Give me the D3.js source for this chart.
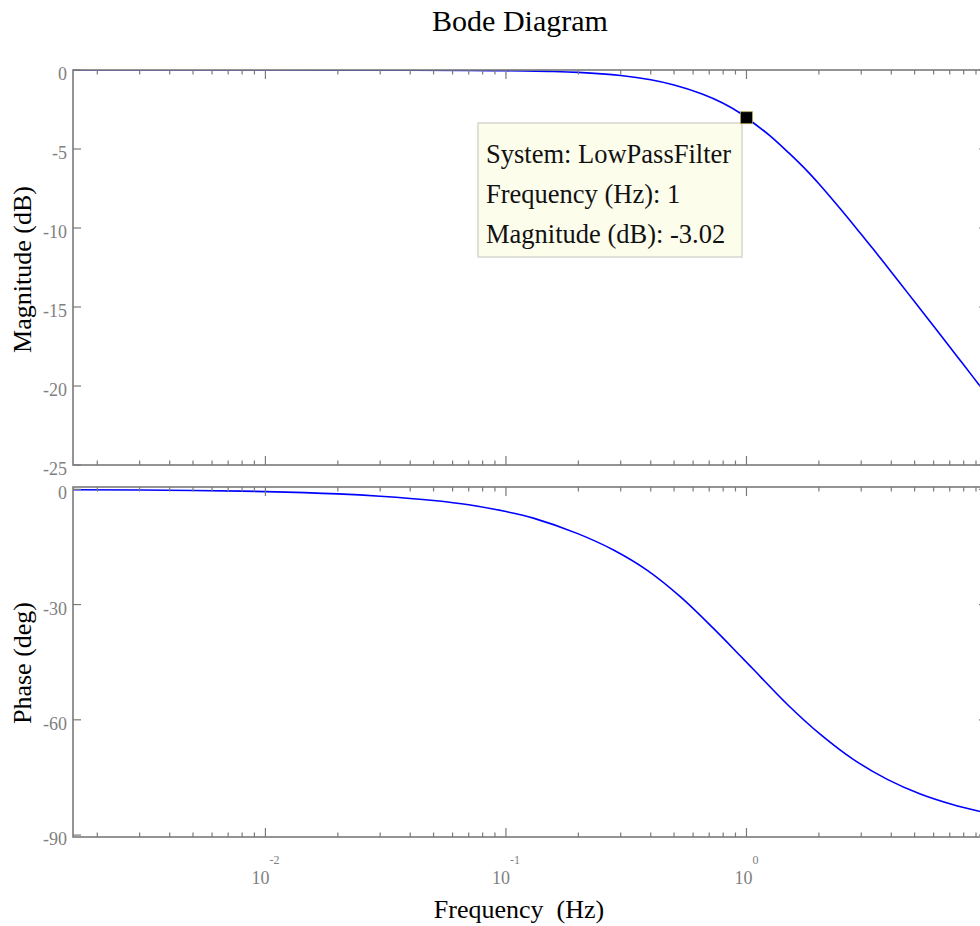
<!DOCTYPE html>
<html>
<head>
<meta charset="utf-8">
<script src="https://cdn.jsdelivr.net/npm/d3@7"></script>
<style>
  html, body { margin: 0; padding: 0; background: #ffffff; }
  svg { display: block; }
  text { font-family: "Liberation Serif", "DejaVu Serif", serif; }
</style>
</head>
<body>
<svg id="chart" width="980" height="926"></svg>
<script>
// ---------------- data ----------------
const magFreq = [0.00158, 0.005, 0.01, 0.02, 0.04, 0.07, 0.1, 0.15, 0.2, 0.3, 0.4, 0.5, 0.65, 0.8, 0.94, 1.0, 1.25, 1.5, 1.79, 2.0, 2.46, 3.0, 3.37, 4.0, 4.67, 5.5, 6.41, 7.5, 8.79, 10];
const magDB   = [0, 0, 0, -0.005, -0.01, -0.025, -0.05, -0.09, -0.15, -0.35, -0.62, -0.95, -1.5, -2.1, -2.72, -3.02, -4.15, -5.25, -6.4, -7.2, -8.8, -10.4, -11.35, -12.78, -14.09, -15.47, -16.77, -18.11, -19.47, -20.58];

const phaseFreq = [0.00158, 0.005, 0.01, 0.02, 0.03, 0.05, 0.07, 0.1, 0.13, 0.2, 0.28, 0.387, 0.532, 0.729, 0.944, 1.0, 1.07, 1.48, 2.03, 2.78, 3.85, 5.28, 7.24, 9.4, 10];
const phaseDeg  = [-0.1, -0.3, -0.6, -1.2, -1.8, -2.9, -4.0, -5.8, -7.5, -11.6, -15.8, -21.1, -28.0, -36.2, -43.4, -45.0, -46.9, -56.0, -63.8, -70.3, -75.5, -79.3, -82.1, -83.9, -84.3];

const magTicks   = [0, -5, -10, -15, -20, -25];
const phaseTicks = [0, -30, -60, -90];
const xMajorExps = [-2, -1, 0];

const tipSystem = "LowPassFilter";
const tipFreq = 1;
const tipMag = -3.02;

const titleText = "Bode Diagram";
const magLabel = "Magnitude (dB)";
const phaseLabel = "Phase (deg)";
const xLabel = "Frequency\u00A0\u00A0(Hz)";

// ---------------- layout ----------------
const svg = d3.select("#chart");
const L = 73, R = 987;
const magTop = 70, magBot = 465;
const phTop = 487, phBot = 837;
const axisColor = "#7a7a7a";
const labelColor = "#808080";

const x = d3.scaleLog().domain([Math.pow(10, -2.8), 10]).range([L, R]);
const yMag = d3.scaleLinear().domain([-25, 0]).range([magBot, magTop]);
const yPh = d3.scaleLinear().domain([-90.5, 0.6]).range([phBot, phTop]);

// minor / major tick values on x
const xMinor = [];
for (let e = -3; e <= 0; e++) for (let m = 2; m <= 9; m++) {
  const v = m * Math.pow(10, e);
  if (v >= x.domain()[0] && v <= x.domain()[1]) xMinor.push(v);
}
const xMajor = [-2, -1, 0, 1].map(e => Math.pow(10, e));

const defs = svg.append("defs");
defs.append("clipPath").attr("id", "clipMag").append("rect")
  .attr("x", L).attr("y", magTop).attr("width", R - L).attr("height", magBot - magTop);
defs.append("clipPath").attr("id", "clipPh").append("rect")
  .attr("x", L).attr("y", phTop).attr("width", R - L).attr("height", phBot - phTop);

function panel(top, bot, yScale, yTicks, clipId, freqs, vals, showXLabels) {
  const g = svg.append("g");
  const line = d3.line()
    .x((d, i) => x(freqs[i]))
    .y((d) => yScale(d))
    .curve(d3.curveCatmullRom.alpha(0.5));
  // curve, clipped to plot area
  g.append("path").datum(vals).attr("d", line)
    .attr("clip-path", "url(#" + clipId + ")")
    .attr("fill", "none").attr("stroke", "#0000ff").attr("stroke-width", 1.6);
  // x ticks (top & bottom, inward)
  const tg = g.append("g").attr("stroke", axisColor).attr("stroke-width", 1.2);
  xMinor.forEach(v => {
    tg.append("line").attr("x1", x(v)).attr("x2", x(v)).attr("y1", top).attr("y2", top + 4.5);
    tg.append("line").attr("x1", x(v)).attr("x2", x(v)).attr("y1", bot).attr("y2", bot - 4.5);
  });
  xMajor.forEach(v => {
    tg.append("line").attr("x1", x(v)).attr("x2", x(v)).attr("y1", top).attr("y2", top + 9);
    tg.append("line").attr("x1", x(v)).attr("x2", x(v)).attr("y1", bot).attr("y2", bot - 9);
  });
  // y ticks (left & right, inward)
  yTicks.forEach(v => {
    const yy = yScale(v);
    tg.append("line").attr("x1", L).attr("x2", L + 8).attr("y1", yy).attr("y2", yy);
    tg.append("line").attr("x1", R).attr("x2", R - 8).attr("y1", yy).attr("y2", yy);
  });
  // frame
  g.append("rect").attr("x", L).attr("y", top).attr("width", R - L).attr("height", bot - top)
    .attr("fill", "none").attr("stroke", axisColor).attr("stroke-width", 1.6);
  // y tick labels
  yTicks.forEach(v => {
    g.append("text").attr("x", 67).attr("y", yScale(v) + 10)
      .attr("text-anchor", "end").attr("font-size", 18).attr("fill", labelColor)
      .text(v === 0 ? "0" : String(v));
  });
  if (showXLabels) {
    xMajorExps.forEach(e => {
      const t = g.append("text").attr("x", x(Math.pow(10, e))).attr("y", 884)
        .attr("text-anchor", "middle").attr("fill", labelColor);
      t.append("tspan").attr("font-size", 18).text("10");
      t.append("tspan").attr("font-size", 12).attr("dy", -20).text(String(e));
    });
  }
  return g;
}

panel(magTop, magBot, yMag, magTicks, "clipMag", magFreq, magDB, false);
panel(phTop, phBot, yPh, phaseTicks, "clipPh", phaseFreq, phaseDeg, true);

// title and axis labels
svg.append("text").attr("x", 520).attr("y", 31).attr("text-anchor", "middle")
  .attr("font-size", 30).attr("fill", "#000").text(titleText);
svg.append("text").attr("transform", "translate(31," + ((magTop + magBot) / 2 + 2) + ") rotate(-90)")
  .attr("text-anchor", "middle").attr("font-size", 26).attr("fill", "#000").text(magLabel);
svg.append("text").attr("transform", "translate(31," + ((phTop + phBot) / 2 + 1) + ") rotate(-90)")
  .attr("text-anchor", "middle").attr("font-size", 26).attr("fill", "#000").text(phaseLabel);
svg.append("text").attr("x", 519).attr("y", 918).attr("text-anchor", "middle")
  .attr("font-size", 26).attr("fill", "#000").text(xLabel);

// data tip
const tg = svg.append("g");
tg.append("rect").attr("x", 478).attr("y", 123).attr("width", 264).attr("height", 134)
  .attr("fill", "#fdfdec").attr("stroke", "#d6d6d0").attr("stroke-width", 1.5);
const tipLines = ["System: " + tipSystem, "Frequency (Hz): " + tipFreq, "Magnitude (dB): " + tipMag.toFixed(2)];
tipLines.forEach((s, i) => {
  tg.append("text").attr("x", 486).attr("y", 163 + i * 40)
    .attr("font-size", 26.5).attr("fill", "#111").text(s);
});
tg.append("rect").attr("x", x(tipFreq) - 6).attr("y", yMag(tipMag) - 6)
  .attr("width", 12).attr("height", 12)
  .attr("fill", "#000").attr("stroke", "#b8a850").attr("stroke-width", 0.8);
</script>
</body>
</html>
